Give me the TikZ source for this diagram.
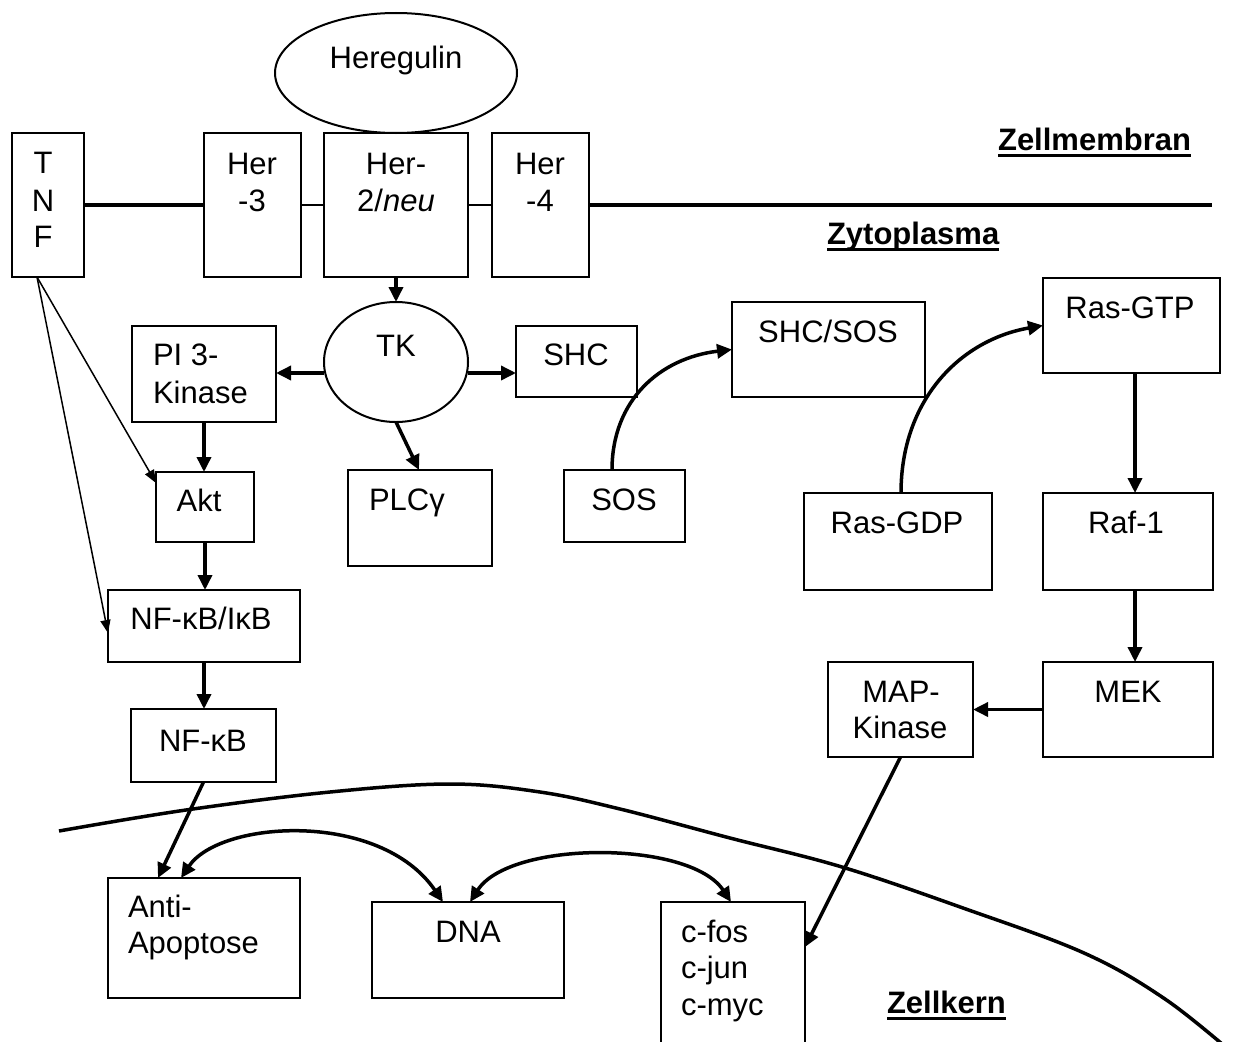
\documentclass[tikz,border=0pt]{standalone}
\usepackage{fontspec}
\setmainfont{Liberation Sans}
\usetikzlibrary{shapes.geometric,arrows.meta}
\begin{document}
\begin{tikzpicture}[x=1pt,y=-1pt,
  box/.style={draw, line width=2pt, rectangle, inner sep=0pt, outer sep=0pt},
  oval/.style={draw, line width=2pt, ellipse, inner sep=0pt, outer sep=0pt},
  lbl/.style={inner sep=0pt, outer sep=0pt, anchor=base, font=\fontsize{31}{37}\selectfont},
  lbll/.style={lbl, anchor=base west},
  head/.style={inner sep=0pt, outer sep=0pt, anchor=base west, font=\bfseries\fontsize{31}{37}\selectfont},
  uline/.style={line width=3pt},
  arr/.style={line width=3.5pt, -{Triangle[length=15pt,width=14pt]}},
  darr/.style={line width=3.5pt, {Triangle[length=15pt,width=14pt]}-{Triangle[length=15pt,width=14pt]}},
  tarr/.style={line width=1.5pt, -{Triangle[length=13pt,width=10pt]}},
  thickline/.style={line width=4pt},
  thinline/.style={line width=1.5pt},
  nucleus/.style={line width=3.5pt}
]
\clip (0,0) rectangle (1233,1041);

% ---- shapes ----
\node[oval, minimum width=242pt, minimum height=120pt] (hereg) at (396,73) {};
\node[box, minimum width=72pt, minimum height=144pt] (tnf) at (48,205) {};
\node[box, minimum width=97pt, minimum height=144pt] (her3) at (252.5,205) {};
\node[box, minimum width=144pt, minimum height=144pt] (her2) at (396,205) {};
\node[box, minimum width=97pt, minimum height=144pt] (her4) at (540.5,205) {};
\coordinate (memend) at (1212,205);

\node[oval, minimum width=144pt, minimum height=120pt] (tk) at (396,362) {};
\node[box, minimum width=144pt, minimum height=96pt] (pi3k) at (204,374) {};
\node[box, minimum width=121pt, minimum height=71pt] (shc) at (576.5,361.5) {};
\node[box, minimum width=193pt, minimum height=95pt] (shcsos) at (828.5,349.5) {};
\node[box, minimum width=177pt, minimum height=95pt] (rasgtp) at (1131.5,325.5) {};
\node[box, minimum width=98pt, minimum height=70pt] (akt) at (205,507) {};
\node[box, minimum width=144pt, minimum height=96pt] (plc) at (420,518) {};
\node[box, minimum width=121pt, minimum height=72pt] (sos) at (624.5,506) {};
\node[box, minimum width=188pt, minimum height=97pt] (rasgdp) at (898,541.5) {};
\node[box, minimum width=170pt, minimum height=97pt] (raf) at (1128,541.5) {};
\node[box, minimum width=192pt, minimum height=72pt] (nfikb) at (204,626) {};
\node[box, minimum width=145pt, minimum height=73pt] (nfkb) at (203.5,745.5) {};
\node[box, minimum width=145pt, minimum height=95pt] (mapk) at (900.5,709.5) {};
\node[box, minimum width=170pt, minimum height=95pt] (mek) at (1128,709.5) {};
\node[box, minimum width=192pt, minimum height=120pt] (anti) at (204,938) {};
\node[box, minimum width=192pt, minimum height=96pt] (dna) at (468,950) {};
\node[box, minimum width=144pt, minimum height=180pt] (cfos) at (733,992) {};

% ---- texts ----
\node[lbl] (t-hereg) at (396,68) {Heregulin};
\node[lbl] (t-tnf1) at (43,173) {T};
\node[lbl] (t-tnf2) at (43,211) {N};
\node[lbl] (t-tnf3) at (43,247) {F};
\node[lbl] (t-her3a) at (252,174) {Her};
\node[lbl] (t-her3b) at (252,211) {-3};
\node[lbl] (t-her2a) at (396,174) {Her-};
\node[lbl] (t-her2b) at (396,211) {2/\textit{neu}};
\node[lbl] (t-her4a) at (540,174) {Her};
\node[lbl] (t-her4b) at (540,211) {-4};
\node[lbl] (t-tk) at (396,356) {TK};
\node[lbll] (t-pi3ka) at (153,365) {PI 3-};
\node[lbll] (t-pi3kb) at (153,403) {Kinase};
\node[lbl] (t-shc) at (576,365) {SHC};
\node[lbl] (t-shcsos) at (828,342) {SHC/SOS};
\node[lbl] (t-rasgtp) at (1130,318) {Ras-GTP};
\node[lbl] (t-akt) at (199,511) {Akt};
\node[lbll] (t-plc) at (369,510) {PLCγ};
\node[lbl] (t-sos) at (624,510) {SOS};
\node[lbl] (t-rasgdp) at (897,533) {Ras-GDP};
\node[lbl] (t-raf) at (1126,533) {Raf-1};
\node[lbl] (t-nfikb) at (201,629) {NF-κB/IκB};
\node[lbl] (t-mapka) at (901,702) {MAP-};
\node[lbl] (t-mapkb) at (900,738) {Kinase};
\node[lbl] (t-mek) at (1128,702) {MEK};
\node[lbl] (t-nfkb) at (203,751) {NF-κB};
\node[lbll] (t-antia) at (128,917) {Anti-};
\node[lbll] (t-antib) at (128,953) {Apoptose};
\node[lbl] (t-dna) at (468,942) {DNA};
\node[lbll] (t-cfos1) at (681,942) {c-fos};
\node[lbll] (t-cfos2) at (681,978) {c-jun};
\node[lbll] (t-cfos3) at (681,1015) {c-myc};

\node[head, anchor=base east] (zm) at (1191,150) {Zellmembran};
\node[head] (zp) at (827,244) {Zytoplasma};
\node[head] (zk) at (887,1013) {Zellkern};
\draw[uline] ([yshift=-5pt]zm.base west) -- ([yshift=-5pt]zm.base east);
\draw[uline] ([yshift=-5pt]zp.base west) -- ([yshift=-5pt]zp.base east);
\draw[uline] ([yshift=-5pt]zk.base west) -- ([yshift=-5pt]zk.base east);

% ---- membrane ----
\draw[thickline] (tnf.east) -- (her3.west);
\draw[thinline] (her3.east) -- (her2.west);
\draw[thinline] (her2.east) -- (her4.west);
\draw[thickline] (her4.east) -- (memend);

% ---- nucleus envelope ----
\draw[nucleus] plot[smooth, tension=0.6] coordinates {(59,831) (186,810) (330,792) (450,784) (540,792) (620,809) (730,838) (842,867) (963,908) (1084,953) (1165,999) (1235,1055)};

% ---- connectors ----
\draw[arr] (her2.south) -- (tk.north);
\draw[arr] ([yshift=-11pt]tk.west) -- ([yshift=-11pt]tk.west -| pi3k.east);
\draw[arr] ([yshift=-11pt]tk.east) -- ([yshift=-11pt]tk.east -| shc.west);
\draw[arr] (tk.south) -- ([xshift=71pt]plc.north west);
\draw[arr] (pi3k.south) -- (pi3k.south |- akt.north);
\draw[arr] (akt.south) -- (akt.south |- nfikb.north);
\draw[arr] (nfikb.south) -- (nfikb.south |- nfkb.north);
\draw[arr] (nfkb.south) -- ([xshift=50pt]anti.north west);
\draw[tarr] ([xshift=-11pt]tnf.south) -- ([yshift=-11pt]akt.north west);
\draw[tarr] ([xshift=-11pt]tnf.south) -- ([yshift=-43pt]nfikb.north west);

\draw[arr] ([xshift=48pt]sos.north west) .. controls (612,400) and (660,358) .. (shcsos.west);
\draw[arr] ([xshift=97pt]rasgdp.north west) .. controls (901,400) and (960,340) .. (rasgtp.west);
\draw[arr] ([xshift=7pt]raf.north |- rasgtp.south) -- ([xshift=7pt]raf.north);
\draw[arr] ([xshift=7pt]raf.south) -- ([xshift=7pt]raf.south |- mek.north);
\draw[arr] (mek.west) -- (mek.west -| mapk.east);
\draw[arr] (mapk.south) -- ([yshift=-45pt]cfos.north east);

\draw[darr] ([xshift=73pt]anti.north west) .. controls (220,820) and (380,810) .. ([xshift=71pt]dna.north west);
\draw[darr] ([xshift=98pt]dna.north west) .. controls (510,840) and (690,840) .. ([xshift=70pt]cfos.north west);
\end{tikzpicture}
\end{document}
